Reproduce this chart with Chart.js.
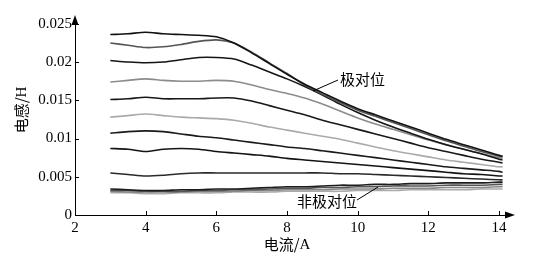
<!DOCTYPE html>
<html>
<head>
<meta charset="utf-8">
<script src="https://cdn.jsdelivr.net/npm/chart.js@4.4.0/dist/chart.umd.min.js"></script>
<style>
  html, body { margin: 0; padding: 0; background: #fff; }
  #wrap { width: 558px; height: 259px; }
</style>
</head>
<body>
<div id="wrap"><canvas id="chart" width="558" height="259"></canvas></div>
<script>
// current (A)
const current = [3, 3.5, 4, 4.5, 5, 5.5, 6, 6.5, 7, 7.5, 8, 8.5, 9, 9.5, 10, 10.5, 11, 11.5, 12, 12.5, 13, 13.5, 14, 14.1];

// inductance (H), from top curve to bottom curve
const curve1 = [0.0236, 0.0237, 0.0239, 0.0237, 0.0236, 0.0235, 0.0233, 0.0225, 0.0212, 0.0198, 0.0184, 0.0171, 0.0160, 0.0149, 0.0139, 0.0131, 0.0123, 0.0115, 0.0107, 0.0099, 0.0092, 0.0085, 0.0078, 0.0077];
const curve2 = [0.0225, 0.0222, 0.0219, 0.0220, 0.0223, 0.0227, 0.0229, 0.0225, 0.0213, 0.0199, 0.0185, 0.0170, 0.0158, 0.0147, 0.0137, 0.0129, 0.0121, 0.0113, 0.0105, 0.0097, 0.0090, 0.0083, 0.0077, 0.0076];
const curve3 = [0.0202, 0.0200, 0.0199, 0.0200, 0.0203, 0.0206, 0.0206, 0.0204, 0.0196, 0.0187, 0.0178, 0.0168, 0.0157, 0.0145, 0.0134, 0.0124, 0.0115, 0.0107, 0.0099, 0.0092, 0.0086, 0.0080, 0.0073, 0.0072];
const curve4 = [0.0174, 0.0176, 0.0178, 0.0176, 0.0175, 0.0175, 0.0176, 0.0175, 0.0170, 0.0164, 0.0159, 0.0153, 0.0145, 0.0136, 0.0127, 0.0119, 0.0112, 0.0105, 0.0098, 0.0092, 0.0086, 0.0080, 0.0075, 0.0074];
const curve5 = [0.0151, 0.0152, 0.0154, 0.0152, 0.0152, 0.0152, 0.0153, 0.0153, 0.0149, 0.0143, 0.0137, 0.0131, 0.0124, 0.0118, 0.0112, 0.0106, 0.0100, 0.0094, 0.0088, 0.0083, 0.0078, 0.0073, 0.0069, 0.0068];
const curve6 = [0.0128, 0.0130, 0.0132, 0.0130, 0.0128, 0.0127, 0.0126, 0.0124, 0.0120, 0.0115, 0.0111, 0.0107, 0.0103, 0.0099, 0.0094, 0.0089, 0.0084, 0.0080, 0.0076, 0.0072, 0.0069, 0.0066, 0.0063, 0.0063];
const curve7 = [0.0107, 0.0109, 0.0110, 0.0109, 0.0106, 0.0103, 0.0101, 0.0098, 0.0095, 0.0092, 0.0089, 0.0087, 0.0084, 0.0081, 0.0078, 0.0075, 0.0072, 0.0069, 0.0066, 0.0063, 0.0061, 0.0059, 0.0057, 0.0056];
const curve8 = [0.0087, 0.0086, 0.0083, 0.0086, 0.0087, 0.0086, 0.0083, 0.0081, 0.0079, 0.0077, 0.0074, 0.0072, 0.0070, 0.0068, 0.0066, 0.0064, 0.0062, 0.0060, 0.0058, 0.0056, 0.0054, 0.0053, 0.0051, 0.0051];
const curve9 = [0.0055, 0.0053, 0.0051, 0.0052, 0.0054, 0.0055, 0.0055, 0.0055, 0.0055, 0.0055, 0.0055, 0.0055, 0.0055, 0.0054, 0.0054, 0.0053, 0.0052, 0.0051, 0.0050, 0.0049, 0.0048, 0.0047, 0.0046, 0.0046];
const curve10 = [0.0034, 0.0033, 0.0032, 0.0032, 0.0033, 0.0033, 0.0034, 0.0034, 0.0035, 0.0036, 0.0037, 0.0037, 0.0038, 0.0039, 0.0039, 0.0040, 0.0040, 0.0041, 0.0041, 0.0042, 0.0042, 0.0042, 0.0043, 0.0043];
const curve11 = [0.0032, 0.0032, 0.0031, 0.0031, 0.0031, 0.0032, 0.0032, 0.0033, 0.0033, 0.0034, 0.0035, 0.0035, 0.0036, 0.0036, 0.0037, 0.0037, 0.0038, 0.0038, 0.0038, 0.0039, 0.0039, 0.0039, 0.0040, 0.0040];
const curve12 = [0.0031, 0.0030, 0.0030, 0.0030, 0.0030, 0.0031, 0.0031, 0.0031, 0.0032, 0.0032, 0.0033, 0.0033, 0.0033, 0.0034, 0.0034, 0.0034, 0.0035, 0.0035, 0.0035, 0.0036, 0.0036, 0.0036, 0.0037, 0.0037];
const curve13 = [0.0029, 0.0029, 0.0028, 0.0028, 0.0029, 0.0029, 0.0029, 0.0030, 0.0030, 0.0030, 0.0031, 0.0031, 0.0031, 0.0031, 0.0032, 0.0032, 0.0032, 0.0033, 0.0033, 0.0033, 0.0033, 0.0034, 0.0034, 0.0034];

const xTicks = [2, 4, 6, 8, 10, 12, 14];
const yTicks = [0, 0.005, 0.01, 0.015, 0.02, 0.025];

const curves = [curve1, curve2, curve3, curve4, curve5, curve6, curve7, curve8, curve9, curve10, curve11, curve12, curve13];
const curveColors = ['#111', '#555', '#151515', '#8c8c8c', '#181818', '#aaa', '#1a1a1a', '#141414', '#2a2a2a', '#1c1c1c', '#555', '#888', '#aaa'];

const serif = '"Times New Roman", "Liberation Serif", "DejaVu Serif", serif';
const cjk = '"Noto Sans CJK SC", sans-serif';

// axis arrows, inner tick marks, titles and the two callouts
const decorations = {
    id: 'decorations',
    afterDraw(chart) {
        const ctx = chart.ctx;
        const xs = chart.scales.x;
        const ys = chart.scales.y;
        const a = chart.chartArea;
        ctx.save();
        ctx.strokeStyle = '#000';
        ctx.fillStyle = '#000';
        ctx.lineWidth = 1;

        // inner ticks
        ctx.beginPath();
        xTicks.slice(1).forEach(v => {
            const px = Math.round(xs.getPixelForValue(v)) + 0.5;
            ctx.moveTo(px, a.bottom);
            ctx.lineTo(px, a.bottom - 4);
        });
        yTicks.slice(1).forEach(v => {
            const py = Math.round(ys.getPixelForValue(v)) + 0.5;
            ctx.moveTo(a.left, py);
            ctx.lineTo(a.left + 4, py);
        });
        ctx.stroke();

        // arrows
        ctx.beginPath();
        ctx.moveTo(a.left, a.top - 5);
        ctx.lineTo(a.left - 3.5, a.top + 5);
        ctx.lineTo(a.left + 3.5, a.top + 5);
        ctx.closePath();
        ctx.fill();
        ctx.beginPath();
        ctx.moveTo(a.right + 5, a.bottom);
        ctx.lineTo(a.right - 5, a.bottom - 3.5);
        ctx.lineTo(a.right - 5, a.bottom + 3.5);
        ctx.closePath();
        ctx.fill();

        // axis titles (CJK part, then the serif unit)
        ctx.textBaseline = 'middle';
        const drawTitle = (cn, unit, cx, cy) => {
            ctx.font = '15px ' + cjk;
            const w1 = ctx.measureText(cn).width;
            ctx.font = '15px ' + serif;
            const w2 = ctx.measureText(unit).width;
            const x0 = cx - (w1 + w2) / 2;
            ctx.textAlign = 'left';
            ctx.font = '15px ' + cjk;
            ctx.fillText(cn, x0, cy);
            ctx.font = '15px ' + serif;
            ctx.fillText(unit, x0 + w1, cy + 1);
        };
        drawTitle('电流/', 'A', 287, 244);
        ctx.save();
        ctx.translate(21, 110);
        ctx.rotate(-Math.PI / 2);
        drawTitle('电感/', 'H', 0, 0);
        ctx.restore();

        // callouts
        ctx.font = '15px ' + cjk;
        ctx.textAlign = 'left';
        ctx.fillText('极对位', 340, 79);
        ctx.fillText('非极对位', 297, 201);
        ctx.beginPath();
        ctx.moveTo(313, 91);
        ctx.lineTo(338, 80);
        ctx.moveTo(357, 200);
        ctx.lineTo(378, 187);
        ctx.stroke();
        ctx.restore();
    }
};

const datasets = curves.map((values, i) => ({
    data: values.map((v, j) => ({ x: current[j], y: v })),
    borderColor: curveColors[i],
    borderWidth: 1.6,
    pointRadius: 0,
    tension: 0.25,
    fill: false
}));

new Chart(document.getElementById('chart').getContext('2d'), {
    type: 'line',
    data: { datasets: datasets },
    options: {
        responsive: false,
        animation: false,
        layout: { padding: { left: 0, top: 20, right: 48, bottom: 0 } },
        plugins: {
            legend: { display: false },
            tooltip: { enabled: false }
        },
        scales: {
            x: {
                type: 'linear',
                min: 2,
                max: 14.31,
                grid: { display: false, drawTicks: false },
                border: { display: true, color: '#000', width: 1 },
                afterBuildTicks: axis => { axis.ticks = xTicks.map(v => ({ value: v })); },
                afterFit: axis => { axis.height = 44; },
                ticks: {
                    color: '#000',
                    padding: 4,
                    maxRotation: 0,
                    font: { family: serif, size: 15 },
                    callback: v => String(v)
                }
            },
            y: {
                type: 'linear',
                min: 0,
                max: 0.0255,
                grid: { display: false, drawTicks: false },
                border: { display: true, color: '#000', width: 1 },
                afterBuildTicks: axis => { axis.ticks = yTicks.map(v => ({ value: v })); },
                afterFit: axis => { axis.width = 75; },
                ticks: {
                    color: '#000',
                    padding: 3,
                    font: { family: serif, size: 15 },
                    callback: v => String(v)
                }
            }
        }
    },
    plugins: [decorations]
});
</script>
</body>
</html>
